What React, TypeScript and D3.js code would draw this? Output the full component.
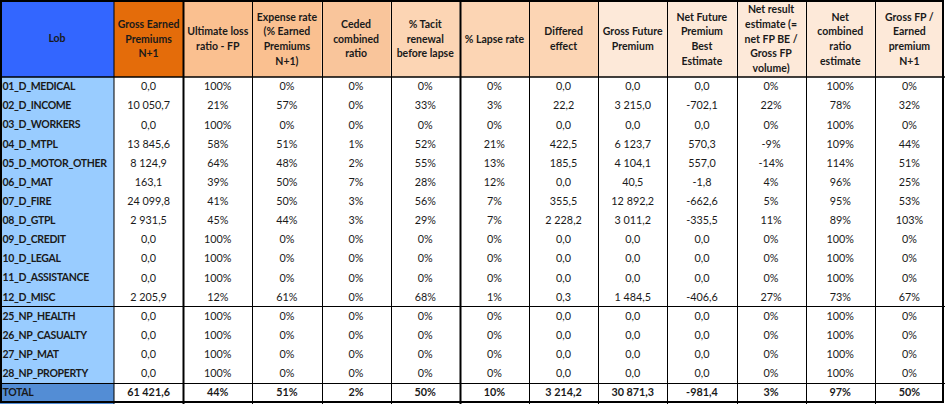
import React from "react";
import * as d3 from "d3";

const lobs = [
  "01_D_MEDICAL", "02_D_INCOME", "03_D_WORKERS", "04_D_MTPL", "05_D_MOTOR_OTHER",
  "06_D_MAT", "07_D_FIRE", "08_D_GTPL", "09_D_CREDIT", "10_D_LEGAL",
  "11_D_ASSISTANCE", "12_D_MISC", "25_NP_HEALTH", "26_NP_CASUALTY", "27_NP_MAT",
  "28_NP_PROPERTY", "TOTAL",
];

// last value of every series is the TOTAL row
const grossEarned = [0, 10050.7, 0, 13845.6, 8124.9, 163.1, 24099.8, 2931.5, 0, 0, 0, 2205.9, 0, 0, 0, 0, 61421.6];
const ultimateLoss = [100, 21, 100, 58, 64, 39, 41, 45, 100, 100, 100, 12, 100, 100, 100, 100, 44];
const expenseRate = [0, 57, 0, 51, 48, 50, 50, 44, 0, 0, 0, 61, 0, 0, 0, 0, 51];
const cededRatio = [0, 0, 0, 1, 2, 7, 3, 3, 0, 0, 0, 0, 0, 0, 0, 0, 2];
const tacitRenewal = [0, 33, 0, 52, 55, 28, 56, 29, 0, 0, 0, 68, 0, 0, 0, 0, 50];
const lapseRate = [0, 3, 0, 21, 13, 12, 7, 7, 0, 0, 0, 1, 0, 0, 0, 0, 10];
const differedEffect = [0, 22.2, 0, 422.5, 185.5, 0, 355.5, 2228.2, 0, 0, 0, 0.3, 0, 0, 0, 0, 3214.2];
const grossFuture = [0, 3215.0, 0, 6123.7, 4104.1, 40.5, 12892.2, 3011.2, 0, 0, 0, 1484.5, 0, 0, 0, 0, 30871.3];
const netFutureBE = [0, -702.1, 0, 570.3, 557.0, -1.8, -662.6, -335.5, 0, 0, 0, -406.6, 0, 0, 0, 0, -981.4];
const netResult = [0, 22, 0, -9, -14, 4, 5, 11, 0, 0, 0, 27, 0, 0, 0, 0, 3];
const netCombined = [100, 78, 100, 109, 114, 96, 95, 89, 100, 100, 100, 73, 100, 100, 100, 100, 97];
const grossFpRatio = [0, 32, 0, 44, 51, 25, 53, 103, 0, 0, 0, 67, 0, 0, 0, 0, 50];

const headers = [
  ["Gross Earned", "Premiums", "N+1"],
  ["Ultimate loss", "ratio - FP"],
  ["Expense rate", "(% Earned", "Premiums", "N+1)"],
  ["Ceded", "combined", "ratio"],
  ["% Tacit", "renewal", "before lapse"],
  ["% Lapse rate"],
  ["Differed", "effect"],
  ["Gross Future", "Premium"],
  ["Net Future", "Premium", "Best", "Estimate"],
  ["Net result", "estimate (=", "net FP BE /", "Gross FP", "volume)"],
  ["Net", "combined", "ratio", "estimate"],
  ["Gross FP /", "Earned", "premium", "N+1"],
];

const W = 945;
const H = 404;
const lobW = 114;
const headH = 77;
const font = "Lato, 'Open Sans', sans-serif";

const locale = d3.formatLocale({ decimal: ",", thousands: " ", grouping: [3], currency: ["", ""], minus: "-" });
const fmtAmount = locale.format(",.1f");
const fmtPct = (v: number) => `${v}%`;

const columns = [
  { head: headers[0], values: grossEarned, fmt: fmtAmount, fill: "#E46C0A" },
  { head: headers[1], values: ultimateLoss, fmt: fmtPct, fill: "#FAC090" },
  { head: headers[2], values: expenseRate, fmt: fmtPct, fill: "#FAC090" },
  { head: headers[3], values: cededRatio, fmt: fmtPct, fill: "#F9C59B" },
  { head: headers[4], values: tacitRenewal, fmt: fmtPct, fill: "#FCD5B4" },
  { head: headers[5], values: lapseRate, fmt: fmtPct, fill: "#FCD5B4" },
  { head: headers[6], values: differedEffect, fmt: fmtAmount, fill: "#FCD5B4" },
  { head: headers[7], values: grossFuture, fmt: fmtAmount, fill: "#FDE9D9" },
  { head: headers[8], values: netFutureBE, fmt: fmtAmount, fill: "#FDE9D9" },
  { head: headers[9], values: netResult, fmt: fmtPct, fill: "#FDE9D9" },
  { head: headers[10], values: netCombined, fmt: fmtPct, fill: "#FDE9D9" },
  { head: headers[11], values: grossFpRatio, fmt: fmtPct, fill: "#FDE9D9" },
];

export default function App() {
  const x = d3.scaleBand<number>().domain(d3.range(columns.length)).range([lobW, W - 1]);
  const y = d3.scaleBand<string>().domain(lobs).range([headH, H - 2]);
  const bw = x.bandwidth();
  const bh = y.bandwidth();
  const lineH = 14.6;
  const total = lobs[lobs.length - 1];

  const thick = new Set([1, 5]); // borders left of these numeric columns

  return (
    <svg width={W} height={H} style={{ position: "absolute", left: 0, top: 0 }} fontFamily={font}>
      <rect width={W} height={H} fill="#fff" />
      {/* header */}
      <rect x={0} y={0} width={lobW} height={headH} fill="#3366FF" />
      <text x={lobW / 2} y={headH / 2} dy="0.35em" textAnchor="middle" fontSize={10.5} fontWeight="bold" fill="#1a1a1a">
        Lob
      </text>
      {columns.map((c, i) => (
        <g key={i}>
          <rect x={x(i)} y={0} width={bw} height={headH} fill={c.fill} />
          {c.head.map((t, k) => (
            <text
              key={k}
              x={(x(i) as number) + bw / 2}
              y={headH / 2 + 0.5 + (k - (c.head.length - 1) / 2) * lineH}
              dy="0.35em"
              textAnchor="middle"
              fontSize={10.5}
              fontWeight="bold"
              fill="#1a1a1a"
            >
              {t}
            </text>
          ))}
        </g>
      ))}
      {/* lob column */}
      <rect x={0} y={headH} width={lobW} height={(y(total) as number) - headH} fill="#99CCFF" />
      <rect x={0} y={y(total)} width={lobW} height={H - (y(total) as number)} fill="#538DD5" />
      {lobs.map((l) => (
        <text
          key={l}
          x={2.5}
          y={(y(l) as number) + bh / 2}
          dy="0.35em"
          fontSize={10.5}
          letterSpacing={-0.35}
          fontWeight="bold"
          fill="#1a1a1a"
        >
          {l}
        </text>
      ))}
      {/* values */}
      {columns.map((c, i) =>
        lobs.map((l, r) => (
          <text
            key={`${i}-${r}`}
            x={(x(i) as number) + bw / 2}
            y={(y(l) as number) + bh / 2}
            dy="0.35em"
            textAnchor="middle"
            fontSize={10.8}
            fontWeight={l === total ? "bold" : "normal"}
            fill="#1a1a1a"
          >
            {c.fmt(c.values[r])}
          </text>
        ))
      )}
      {/* grid lines */}
      <line x1={lobW} x2={lobW} y1={0} y2={H} stroke="#000" strokeWidth={1} />
      {columns.map((c, i) =>
        i === 0 ? null : (
          <line
            key={`v${i}`}
            x1={Math.round(x(i) as number) + 0.5}
            x2={Math.round(x(i) as number) + 0.5}
            y1={0}
            y2={H}
            stroke="#000"
            strokeWidth={thick.has(i) ? 2 : 1}
          />
        )
      )}
      <line x1={0} x2={W} y1={headH} y2={headH} stroke="#000" strokeWidth={1.5} />
      <line x1={0} x2={W} y1={Math.round(y(lobs[12]) as number) + 0.5} y2={Math.round(y(lobs[12]) as number) + 0.5} stroke="#000" strokeWidth={1} />
      <line x1={0} x2={W} y1={Math.round(y(total) as number) + 0.5} y2={Math.round(y(total) as number) + 0.5} stroke="#000" strokeWidth={1} />
      <rect x={1} y={1} width={W - 3} height={H - 3} fill="none" stroke="#000" strokeWidth={2} />
    </svg>
  );
}
